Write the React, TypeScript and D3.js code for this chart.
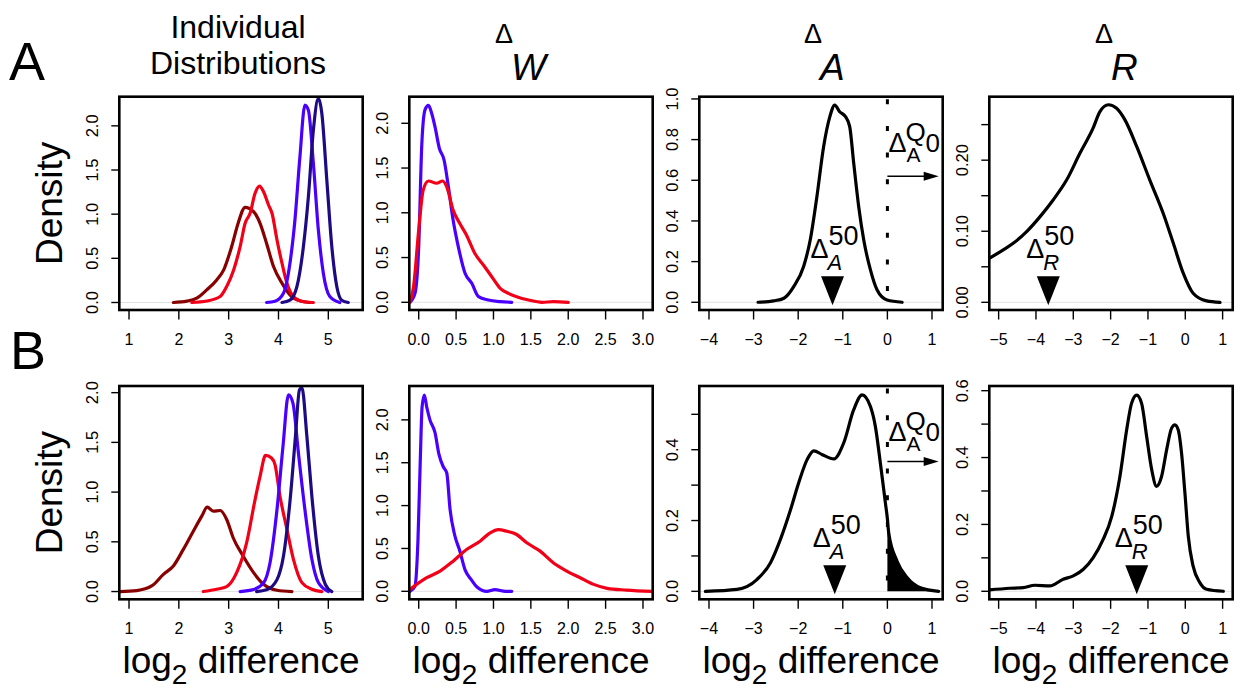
import React from "react";
import * as d3 from "d3";

type Pt = [number, number];

// ---------------- data ----------------
// Row A, panel 1: individual distributions
const indivA_darkred: Pt[] = [[1.89,0],[2.16,0.015],[2.36,0.05],[2.56,0.143],[2.76,0.256],[2.90,0.369],[3.06,0.633],[3.19,0.897],[3.33,1.078],[3.50,1.028],[3.63,0.897],[3.76,0.671],[3.90,0.407],[4.07,0.219],[4.23,0.087],[4.43,0.019],[4.63,0]];
const indivA_red: Pt[] = [[2.26,0],[2.56,0.017],[2.83,0.068],[2.96,0.181],[3.10,0.369],[3.23,0.633],[3.33,0.897],[3.43,1.01],[3.53,1.236],[3.62,1.318],[3.70,1.254],[3.80,1.104],[3.87,1.01],[3.97,0.708],[4.07,0.445],[4.17,0.219],[4.30,0.068],[4.50,0.008],[4.70,0]];
const indivA_blue: Pt[] = [[3.76,0],[3.93,0.015],[4.10,0.106],[4.23,0.445],[4.33,0.934],[4.43,1.65],[4.53,2.234],[4.60,2.177],[4.70,1.575],[4.80,0.821],[4.90,0.332],[5.03,0.068],[5.23,0]];
const indivA_navy: Pt[] = [[4.07,0],[4.23,0.026],[4.37,0.181],[4.50,0.633],[4.60,1.198],[4.70,1.951],[4.80,2.31],[4.87,2.14],[4.97,1.386],[5.07,0.633],[5.17,0.181],[5.27,0.026],[5.40,0]];
// Row B, panel 1
const indivB_darkred: Pt[] = [[0.82,0],[1.155,0.01],[1.456,0.056],[1.69,0.173],[1.89,0.257],[2.09,0.424],[2.29,0.607],[2.46,0.758],[2.57,0.848],[2.69,0.808],[2.83,0.815],[2.96,0.725],[3.09,0.541],[3.29,0.357],[3.50,0.19],[3.70,0.073],[3.97,0.013],[4.27,0]];
const indivB_red: Pt[] = [[2.49,0],[2.76,0.023],[2.96,0.05],[3.16,0.19],[3.36,0.49],[3.53,0.925],[3.63,1.158],[3.74,1.369],[3.86,1.343],[3.93,1.276],[4.03,0.958],[4.17,0.624],[4.30,0.324],[4.47,0.09],[4.67,0.023],[4.87,0]];
const indivB_blue: Pt[] = [[3.23,0],[3.50,0.02],[3.70,0.087],[3.83,0.29],[3.97,0.825],[4.09,1.459],[4.20,1.977],[4.29,1.894],[4.40,1.393],[4.53,0.825],[4.67,0.324],[4.80,0.09],[5.00,0]];
const indivB_navy: Pt[] = [[3.56,0],[3.76,0.017],[3.97,0.12],[4.10,0.357],[4.24,0.958],[4.34,1.559],[4.42,2.027],[4.47,2.05],[4.57,1.559],[4.67,0.958],[4.80,0.357],[4.94,0.073],[5.07,0]];
// Panel 2: Delta_W
const deltaW_A_blue: Pt[] = [[-0.117,0],[-0.05,0.10],[0.0,0.62],[0.04,1.74],[0.084,2.15],[0.13,2.20],[0.174,2.11],[0.218,1.96],[0.276,1.72],[0.339,1.59],[0.397,1.29],[0.46,0.92],[0.53,0.62],[0.62,0.324],[0.71,0.212],[0.80,0.063],[0.93,0.026],[1.09,0.007],[1.245,0]];
const deltaW_A_red: Pt[] = [[-0.117,0],[-0.07,0.17],[0.0,0.81],[0.06,1.255],[0.13,1.355],[0.24,1.33],[0.32,1.355],[0.375,1.29],[0.46,1.03],[0.55,0.88],[0.64,0.75],[0.75,0.547],[0.865,0.417],[0.977,0.286],[1.09,0.156],[1.2,0.10],[1.31,0.063],[1.47,0.026],[1.65,0],[1.80,0.007],[2.0,0]];
const deltaW_B_blue: Pt[] = [[-0.117,0],[-0.05,0.06],[-0.01,0.6],[0.02,1.5],[0.045,2.15],[0.075,2.29],[0.107,2.15],[0.15,2.0],[0.218,1.85],[0.27,1.6],[0.33,1.45],[0.375,1.38],[0.42,0.95],[0.48,0.66],[0.55,0.47],[0.62,0.25],[0.70,0.14],[0.78,0.05],[0.91,0.0],[1.02,0.02],[1.16,0.0],[1.245,0]];
const deltaW_B_red: Pt[] = [[-0.117,0.023],[0.107,0.159],[0.285,0.236],[0.46,0.352],[0.64,0.488],[0.82,0.585],[0.955,0.682],[1.066,0.72],[1.18,0.70],[1.31,0.663],[1.446,0.566],[1.624,0.469],[1.80,0.333],[1.98,0.236],[2.16,0.159],[2.34,0.081],[2.52,0.035],[2.78,0.015],[3.12,0.0]];
// Panel 3: Delta_A
const deltaA_A: Pt[] = [[-2.90,0],[-2.55,0.007],[-2.32,0.02],[-2.10,0.077],[-1.88,0.175],[-1.73,0.306],[-1.58,0.52],[-1.43,0.765],[-1.29,0.913],[-1.18,0.97],[-1.07,0.937],[-0.94,0.913],[-0.845,0.864],[-0.755,0.684],[-0.643,0.47],[-0.53,0.306],[-0.38,0.159],[-0.23,0.06],[-0.007,0.011],[0.33,0]];
const deltaA_B: Pt[] = [[-4.08,0],[-3.37,0.0056],[-2.92,0.034],[-2.62,0.081],[-2.40,0.146],[-2.17,0.231],[-1.99,0.306],[-1.80,0.372],[-1.65,0.397],[-1.46,0.386],[-1.20,0.374],[-0.98,0.419],[-0.755,0.513],[-0.567,0.555],[-0.38,0.522],[-0.27,0.466],[-0.157,0.362],[-0.045,0.25],[0,0.205],[0.03,0.165],[0.217,0.085],[0.44,0.039],[0.74,0.01],[1.15,0]];
// Panel 4: Delta_R
const deltaR_A: Pt[] = [[-5.25,0.062],[-4.876,0.0737],[-4.61,0.083],[-4.25,0.0995],[-3.89,0.1206],[-3.54,0.144],[-3.18,0.172],[-2.82,0.21],[-2.47,0.245],[-2.29,0.268],[-2.06,0.278],[-1.84,0.273],[-1.62,0.257],[-1.30,0.219],[-0.95,0.172],[-0.59,0.125],[-0.32,0.083],[-0.055,0.041],[0.21,0.0127],[0.57,0.002],[0.93,0]];
const deltaR_B: Pt[] = [[-5.25,0.004],[-4.70,0.009],[-4.34,0.011],[-4.03,0.018],[-3.63,0.016],[-3.27,0.036],[-3.0,0.046],[-2.73,0.066],[-2.47,0.100],[-2.20,0.155],[-1.97,0.224],[-1.75,0.344],[-1.57,0.483],[-1.44,0.562],[-1.30,0.587],[-1.17,0.562],[-1.035,0.463],[-0.90,0.364],[-0.77,0.314],[-0.634,0.344],[-0.50,0.423],[-0.366,0.488],[-0.277,0.498],[-0.19,0.483],[-0.10,0.413],[-0.01,0.294],[0.08,0.165],[0.21,0.075],[0.39,0.026],[0.57,0.006],[1.02,0]];

// medians (triangles) and Q0 arrows
const medianA_A = -1.23;
const medianR_A = -3.67;
const medianA_B = -1.18;
const medianR_B = -1.30;
const q0Arrow_A: Pt = [1.15, 0.62];
const q0Arrow_B: Pt = [1.15, 0.367];

// ticks
const xTicks1 = [1, 2, 3, 4, 5];
const xTicks2 = [0, 0.5, 1, 1.5, 2, 2.5, 3];
const xTicks3 = [-4, -3, -2, -1, 0, 1];
const xTicks4 = [-5, -4, -3, -2, -1, 0, 1];
const yTicksDens = [0, 0.5, 1, 1.5, 2];
const yTicks3A = [0, 0.2, 0.4, 0.6, 0.8, 1.0];
const yTicks3B = [0, 0.1, 0.2, 0.3, 0.4, 0.5];
const yLabels3B = [0, 0.2, 0.4];
const yTicks4A = [0, 0.05, 0.1, 0.15, 0.2, 0.25];
const yLabels4A = [0, 0.1, 0.2];
const yTicks4B = [0, 0.1, 0.2, 0.3, 0.4, 0.5, 0.6];
const yLabels4B = [0, 0.2, 0.4, 0.6];

const colDarkRed = "#880000";
const colRed = "#F20018";
const colBlue = "#4A00FF";
const colNavy = "#1E0A82";

// ---------------- layout ----------------
const W = 1244, H = 691;
const FONT = "'Liberation Sans', Arial, Helvetica, sans-serif";
const colLeft = [119.3, 409.3, 699.3, 989.3];
const panelW = 243.4;
const rowTop = [96.7, 386];
const panelH = 213.3;
const DELTA_SIZE = 27;

const fmt1 = (v: number) => v.toFixed(1);
const fmt2 = (v: number) => v.toFixed(2);
const fmtInt = (v: number) => (v < 0 ? "\u2212" + Math.abs(v) : String(v));

interface PanelSpec {
  col: number;
  row: number;
  xDomain: [number, number];
  yDomain: [number, number];
  xTicks: number[];
  xFmt: (v: number) => string;
  yTicks: number[];
  yLabels: number[];
  yFmt: (v: number) => string;
  series: { pts: Pt[]; color: string }[];
  median?: { x: number; sub: string };
  q0?: { arrow: Pt; shade: boolean; curve: Pt[] };
}

const panels: PanelSpec[] = [
  { col: 0, row: 0, xDomain: [0.805, 5.69], yDomain: [-0.085, 2.33], xTicks: xTicks1, xFmt: fmtInt, yTicks: yTicksDens, yLabels: yTicksDens, yFmt: fmt1,
    series: [{ pts: indivA_darkred, color: colDarkRed }, { pts: indivA_red, color: colRed }, { pts: indivA_blue, color: colBlue }, { pts: indivA_navy, color: colNavy }] },
  { col: 1, row: 0, xDomain: [-0.126, 3.13], yDomain: [-0.086, 2.297], xTicks: xTicks2, xFmt: fmt1, yTicks: yTicksDens, yLabels: yTicksDens, yFmt: fmt1,
    series: [{ pts: deltaW_A_blue, color: colBlue }, { pts: deltaW_A_red, color: colRed }] },
  { col: 2, row: 0, xDomain: [-4.217, 1.24], yDomain: [-0.038, 1.011], xTicks: xTicks3, xFmt: fmtInt, yTicks: yTicks3A, yLabels: yTicks3A, yFmt: fmt1,
    series: [{ pts: deltaA_A, color: "#000" }], median: { x: medianA_A, sub: "A" }, q0: { arrow: q0Arrow_A, shade: false, curve: deltaA_A } },
  { col: 3, row: 0, xDomain: [-5.25, 1.27], yDomain: [-0.0108, 0.2893], xTicks: xTicks4, xFmt: fmtInt, yTicks: yTicks4A, yLabels: yLabels4A, yFmt: fmt2,
    series: [{ pts: deltaR_A, color: "#000" }], median: { x: medianR_A, sub: "R" } },
  { col: 0, row: 1, xDomain: [0.805, 5.69], yDomain: [-0.078, 2.067], xTicks: xTicks1, xFmt: fmtInt, yTicks: yTicksDens, yLabels: yTicksDens, yFmt: fmt1,
    series: [{ pts: indivB_darkred, color: colDarkRed }, { pts: indivB_red, color: colRed }, { pts: indivB_blue, color: colBlue }, { pts: indivB_navy, color: colNavy }] },
  { col: 1, row: 1, xDomain: [-0.126, 3.13], yDomain: [-0.093, 2.395], xTicks: xTicks2, xFmt: fmt1, yTicks: yTicksDens, yLabels: yTicksDens, yFmt: fmt1,
    series: [{ pts: deltaW_B_blue, color: colBlue }, { pts: deltaW_B_red, color: colRed }] },
  { col: 2, row: 1, xDomain: [-4.217, 1.24], yDomain: [-0.0225, 0.58], xTicks: xTicks3, xFmt: fmtInt, yTicks: yTicks3B, yLabels: yLabels3B, yFmt: fmt1,
    series: [{ pts: deltaA_B, color: "#000" }], median: { x: medianA_B, sub: "A" }, q0: { arrow: q0Arrow_B, shade: true, curve: deltaA_B } },
  { col: 3, row: 1, xDomain: [-5.25, 1.27], yDomain: [-0.024, 0.614], xTicks: xTicks4, xFmt: fmtInt, yTicks: yTicks4B, yLabels: yLabels4B, yFmt: fmt1,
    series: [{ pts: deltaR_B, color: "#000" }], median: { x: medianR_B, sub: "R" } },
];

function Panel({ p }: { p: PanelSpec }) {
  const left = colLeft[p.col];
  const top = rowTop[p.row];
  const xs = d3.scaleLinear().domain(p.xDomain).range([left, left + panelW]);
  const ys = d3.scaleLinear().domain(p.yDomain).range([top + panelH, top]);
  const line = d3.line<Pt>().x((d) => xs(d[0])).y((d) => ys(d[1])).curve(d3.curveMonotoneX);
  const bottom = top + panelH;
  const y0 = ys(0);
  const clipId = `clip-${p.row}-${p.col}`;
  const els: React.ReactNode[] = [];

  if (p.q0 && p.q0.shade) {
    const shadePts = p.q0.curve.filter((d) => d[0] >= 0);
    const area = d3.area<Pt>().x((d) => xs(d[0])).y0(y0).y1((d) => ys(d[1])).curve(d3.curveMonotoneX);
    els.push(<path key="shade" d={area(shadePts) || ""} fill="#000" />);
  }

  return (
    <g>
      <defs>
        <clipPath id={clipId}>
          <rect x={left} y={top} width={panelW} height={panelH} />
        </clipPath>
      </defs>
      <line x1={left} x2={left + panelW} y1={y0} y2={y0} stroke="#e2e2e2" strokeWidth={1} />
      <g clipPath={`url(#${clipId})`}>
        {p.series.map((s, i) => (
          <path key={i} d={line(s.pts) || ""} fill="none" stroke={s.color} strokeWidth={3.2} strokeLinejoin="round" strokeLinecap="round" />
        ))}
        {els}
        {p.q0 && (
          <line x1={xs(0)} x2={xs(0)} y1={top + 2.5} y2={y0} stroke="#000" strokeWidth={3} strokeDasharray="5 21.7" />
        )}
      </g>
      {p.q0 && (
        <g>
          <line x1={xs(0)} x2={xs(p.q0.arrow[0]) - 12} y1={ys(p.q0.arrow[1])} y2={ys(p.q0.arrow[1])} stroke="#000" strokeWidth={1.5} />
          <path d={`M${xs(p.q0.arrow[0])},${ys(p.q0.arrow[1])} L${xs(p.q0.arrow[0]) - 15},${ys(p.q0.arrow[1]) - 4.5} L${xs(p.q0.arrow[0]) - 15},${ys(p.q0.arrow[1]) + 4.5} Z`} fill="#000" />
          <text x={xs(0) + 1} y={top + 55} fontFamily={FONT} fontSize={DELTA_SIZE}>Δ</text>
          <text x={xs(0) + 19} y={top + 65} fontFamily={FONT} fontSize={21}>A</text>
          <text x={xs(0) + 18} y={top + 44} fontFamily={FONT} fontSize={26}>Q</text>
          <text x={xs(0) + 38} y={top + 55} fontFamily={FONT} fontSize={26}>0</text>
        </g>
      )}
      {p.median && (
        <g>
          <path d={`M${xs(p.median.x)},${y0 + 3} L${xs(p.median.x) - 11.5},${y0 - 26} L${xs(p.median.x) + 11.5},${y0 - 26} Z`} fill="#000" />
          <text x={xs(p.median.x) - 22} y={y0 - 44.5} fontFamily={FONT} fontSize={DELTA_SIZE}>Δ</text>
          <text x={xs(p.median.x) - 4} y={y0 - 57} fontFamily={FONT} fontSize={27}>50</text>
          <text x={xs(p.median.x) - 5} y={y0 - 32} fontFamily={FONT} fontSize={22} fontStyle="italic">{p.median.sub}</text>
        </g>
      )}
      <rect x={left} y={top} width={panelW} height={panelH} fill="none" stroke="#000" strokeWidth={2.6} />
      {p.xTicks.map((t) => (
        <g key={"x" + t}>
          <line x1={xs(t)} x2={xs(t)} y1={bottom} y2={bottom + 9.5} stroke="#000" strokeWidth={1.4} />
          <text x={xs(t)} y={bottom + 34.5} textAnchor="middle" fontFamily={FONT} fontSize={16}>{p.xFmt(t)}</text>
        </g>
      ))}
      {p.yTicks.map((t) => (
        <line key={"y" + t} x1={left} x2={left - 8} y1={ys(t)} y2={ys(t)} stroke="#000" strokeWidth={1.4} />
      ))}
      {p.yLabels.map((t) => (
        <text key={"yl" + t} transform={`translate(${left - 21},${ys(t)}) rotate(-90)`} textAnchor="middle" fontFamily={FONT} fontSize={16.5}>{p.yFmt(t)}</text>
      ))}
    </g>
  );
}

export default function App() {
  const centers = colLeft.map((l) => l + panelW / 2);
  return (
    <svg width={W} height={H} viewBox={`0 0 ${W} ${H}`} style={{ position: "absolute", left: 0, top: 0, background: "#fff" }}>
      <rect width={W} height={H} fill="#fff" />
      {/* column headers */}
      <text x={centers[0] - 3} y={38} textAnchor="middle" fontFamily={FONT} fontSize={32}>Individual</text>
      <text x={centers[0] - 3} y={74} textAnchor="middle" fontFamily={FONT} fontSize={32}>Distributions</text>
      <text x={495} y={43} fontFamily={FONT} fontSize={DELTA_SIZE}>Δ</text>
      <text x={511} y={80} fontFamily={FONT} fontSize={37} fontStyle="italic">W</text>
      <text x={804} y={43} fontFamily={FONT} fontSize={DELTA_SIZE}>Δ</text>
      <text x={820} y={80} fontFamily={FONT} fontSize={37} fontStyle="italic">A</text>
      <text x={1095} y={43} fontFamily={FONT} fontSize={DELTA_SIZE}>Δ</text>
      <text x={1111} y={80} fontFamily={FONT} fontSize={37} fontStyle="italic">R</text>
      {/* row labels */}
      <text x={9} y={80} fontFamily={FONT} fontSize={54}>A</text>
      <text x={10} y={369} fontFamily={FONT} fontSize={54}>B</text>
      {/* y axis titles */}
      {rowTop.map((t, i) => (
        <text key={"d" + i} transform={`translate(62,${t + panelH / 2}) rotate(-90)`} textAnchor="middle" fontFamily={FONT} fontSize={37}>Density</text>
      ))}
      {/* x axis titles */}
      {centers.map((c, i) => (
        <text key={"l" + i} x={c} y={673} textAnchor="middle" fontFamily={FONT} fontSize={37}>
          log<tspan dy={11} fontSize={28}>2</tspan><tspan dy={-11}> difference</tspan>
        </text>
      ))}
      {panels.map((p, i) => (
        <Panel key={i} p={p} />
      ))}
    </svg>
  );
}
